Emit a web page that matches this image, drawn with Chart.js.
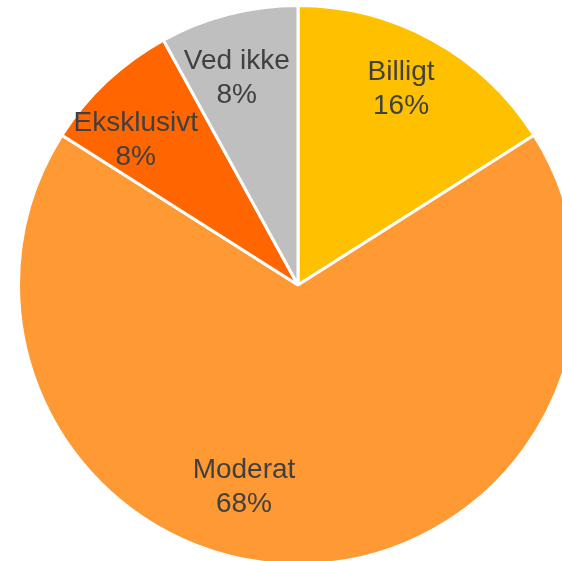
<!DOCTYPE html>
<html>
<head>
    <title>Pris</title>
    <script src="https://cdn.jsdelivr.net/npm/chart.js"></script>
    <style>
        html, body { margin: 0; padding: 0; background: #fff; overflow: hidden; }
        canvas { display: block; }
    </style>
</head>
<body>

<canvas id="pie" width="562" height="561"></canvas>

<script>

/* DATA */
const categories = ["Billigt", "Moderat", "Eksklusivt", "Ved ikke"];
const shares = [16, 68, 8, 8];
const percentLabels = ["16%", "68%", "8%", "8%"];

/* STYLE */
const sliceColors = ["#FFC000", "#FF9933", "#FF6600", "#BFBFBF"];
// small nudges so labels sit where the original put them
const labelShift = [[-2, 3], [-54, -8], [-13, 22], [-7, 12]];

const sliceLabels = {
    id: "sliceLabels",
    afterDatasetsDraw(chart) {
        const ctx = chart.ctx;
        const arcs = chart.getDatasetMeta(0).data;
        ctx.save();
        ctx.font = "28px 'Liberation Sans', Arial, sans-serif";
        ctx.fillStyle = "#404040";
        ctx.textAlign = "center";
        ctx.textBaseline = "alphabetic";
        arcs.forEach((arc, i) => {
            const p = arc.getProps(["x", "y", "startAngle", "endAngle", "outerRadius"], true);
            const mid = (p.startAngle + p.endAngle) / 2;
            const r = p.outerRadius * 0.78;
            const x = p.x + Math.cos(mid) * r + labelShift[i][0];
            const y = p.y + Math.sin(mid) * r + labelShift[i][1];
            ctx.fillText(categories[i], x, y - 17);
            ctx.fillText(percentLabels[i], x, y + 17);
        });
        ctx.restore();
    }
};

new Chart(document.getElementById("pie"), {
    type: "pie",
    data: {
        labels: categories,
        datasets: [{
            data: shares,
            backgroundColor: sliceColors,
            borderColor: "#ffffff",
            borderWidth: 3,
            clip: false
        }]
    },
    options: {
        responsive: false,
        animation: false,
        radius: 279.5,
        layout: { padding: { left: 34, top: 9, right: 0, bottom: 0 } },
        plugins: {
            legend: { display: false },
            tooltip: { enabled: false }
        }
    },
    plugins: [sliceLabels]
});

</script>

</body>
</html>
